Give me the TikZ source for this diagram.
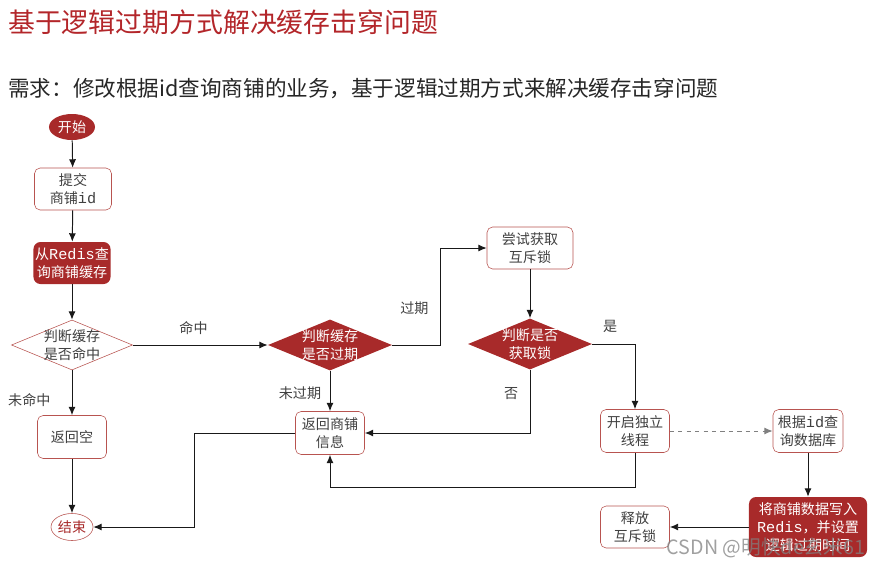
\documentclass[tikz,border=0pt]{standalone}
\usepackage{fontspec}
\setmainfont{Noto Sans CJK SC}
\newfontfamily\monofont[Scale=1.08]{Liberation Mono}
\usepackage{tikz}
\usetikzlibrary{arrows.meta}
\usetikzlibrary{shapes.geometric}
\definecolor{darkred}{HTML}{A82A2A}
\definecolor{titlered}{HTML}{B3262A}
\definecolor{boxred}{HTML}{B85450}
\definecolor{textgray}{HTML}{404040}
\newcommand{\boxfont}{\fontsize{10pt}{12.8pt}\selectfont}
\tikzset{
	startstop/.style={ellipse, fill=darkred, text=white, inner sep=0pt,
		minimum width=1.15cm, minimum height=0.65cm, font=\boxfont},
	endstop/.style={ellipse, draw=boxred, fill=white, text=darkred, inner sep=0pt,
		minimum width=1.05cm, minimum height=0.675cm, font=\boxfont},
	process/.style={draw=boxred, fill=white, text=textgray, rounded corners=4pt,
		align=center, inner sep=0pt, minimum width=1.725cm, minimum height=1.075cm, font=\boxfont},
	redprocess/.style={fill=darkred, text=white, rounded corners=5pt,
		align=center, inner sep=0pt, minimum width=1.925cm, minimum height=1.05cm, font=\boxfont},
	decision/.style={diamond, draw=boxred, fill=white, inner sep=0pt,
		minimum width=3.025cm, minimum height=1.25cm},
	reddecision/.style={diamond, fill=darkred, inner sep=0pt,
		minimum width=3.1cm, minimum height=1.275cm},
	intext/.style={align=center, font=\boxfont, text=#1},
	flow/.style={line width=0.7pt, color=black!90, -{Latex[length=6pt,width=5pt]}},
	dashflow/.style={line width=0.7pt, color=gray, dashed, -{Latex[length=6pt,width=5pt]}},
	elabel/.style={text=textgray, inner sep=1pt, font=\boxfont},
}

\begin{document}
\begin{tikzpicture}[x=0.025cm, y=-0.025cm]
			\useasboundingbox (0,0) rectangle (881,567);
			% Headings
			\node[anchor=west, inner sep=0pt, text=titlered, font=\fontsize{19.1pt}{22pt}\selectfont] (title) at (8,22) {基于逻辑过期方式解决缓存击穿问题};
			\node[anchor=west, inner sep=0pt, text=black!85, font=\fontsize{15.35pt}{19pt}\selectfont] (need) at (8,89) {需求：修改根据id查询商铺的业务，基于逻辑过期方式来解决缓存击穿问题};
			% Left column
			\node[startstop] (start) at (72,127) {开始};
			\node[process, minimum width=1.925cm, minimum height=1.05cm] (submit) at (73,189) {提交\\商铺{\monofont id}};
			\node[redprocess] (query) at (72,263) {从{\monofont Redis}查\\询商铺缓存};
			\node[decision, label={[intext=textgray]center:判断缓存\\是否命中}] (hit) at (72,345) {};
			\node[process] (empty) at (72,437) {返回空};
			\node[endstop] (end) at (72,527) {结束};
			% Middle column
			\node[reddecision, label={[intext=white]center:判断缓存\\是否过期}] (expire) at (330,345) {};
			\node[process] (info) at (330,433) {返回商铺\\信息};
			\node[process, minimum width=2.15cm, minimum height=1.05cm] (try) at (530,248) {尝试获取\\互斥锁};
			\node[reddecision, label={[intext=white]center:判断是否\\获取锁}] (lock) at (530,344) {};
			% Right side
			\node[process] (thread) at (635,431) {开启独立\\线程};
			\node[process, minimum width=1.75cm] (db) at (808,431) {根据{\monofont id}查\\询数据库};
			\node[redprocess, minimum width=2.95cm, minimum height=1.5cm] (write) at (808,527) {将商铺数据写入\\{\monofont Redis}，并设置\\逻辑过期时间};
			\node[process, minimum height=1.05cm] (release) at (635,527) {释放\\互斥锁};
			% Connectors
			\draw[flow] (start) -- (submit);
			\draw[flow] (submit) -- (query);
			\draw[flow] (query) -- (hit);
			\draw[flow] (hit) -- node[elabel, pos=0.67, left=14pt] {未命中} (empty);
			\draw[flow] (empty) -- (end);
			\draw[flow] (hit) -- node[elabel, pos=0.45, above=6pt] {命中} (expire);
			\draw[flow] (expire) -- node[elabel, pos=0.56, left=5pt] {未过期} (info);
			\draw[flow] (expire.east) -- ++(48,0) |- node[elabel, pos=0.19, left=7pt] {过期} (try.west);
			\draw[flow] (try) -- (lock);
			\draw[flow] (lock.south) |- node[elabel, pos=0.19, left=7pt] {否} (info.east);
			\draw[flow] (lock.east) -| node[elabel, pos=0.21, above=7pt] {是} (thread.north);
			\draw[dashflow] (thread) -- (db);
			\draw[flow] (thread.south) -- ++(0,35) -| (info.south);
			\draw[flow] (db) -- (write);
			\draw[flow] (write) -- (release);
			\draw[flow] (info.west) -- ++(-101,0) |- (end.east);
			% Watermark
			\node[text=gray, opacity=0.75, inner sep=0pt, font=\fontsize{14pt}{16pt}\selectfont] (mark) at (766,548) {CSDN @明快de玄米61};
		\end{tikzpicture}
\end{document}
